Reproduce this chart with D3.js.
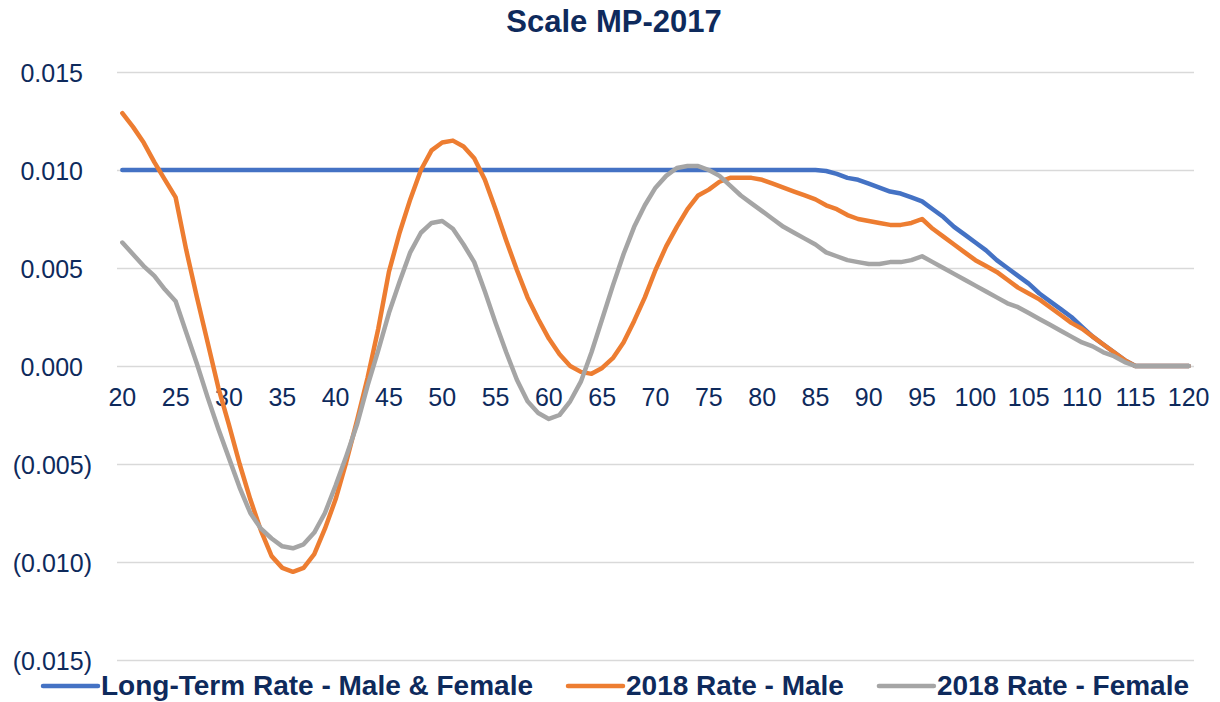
<!DOCTYPE html>
<html>
<head>
<meta charset="utf-8">
<script src="https://cdn.jsdelivr.net/npm/d3@7"></script>
<style>
  body { margin: 0; background: #fff; }
  svg { font-family: "Liberation Sans", Arial, sans-serif; }
</style>
</head>
<body>
<svg id="chart" width="1220" height="702"></svg>
<script>
/* Chart data: ages on the x axis, one value per age for each series */
var ages = d3.range(20, 121);
var xTickLabels = d3.range(20, 121, 5);
var yTickValues = [-0.015, -0.010, -0.005, 0, 0.005, 0.010, 0.015];

var longTerm = [
  0.010, 0.010, 0.010, 0.010, 0.010, 0.010, 0.010, 0.010, 0.010, 0.010,
  0.010, 0.010, 0.010, 0.010, 0.010, 0.010, 0.010, 0.010, 0.010, 0.010,
  0.010, 0.010, 0.010, 0.010, 0.010, 0.010, 0.010, 0.010, 0.010, 0.010,
  0.010, 0.010, 0.010, 0.010, 0.010, 0.010, 0.010, 0.010, 0.010, 0.010,
  0.010, 0.010, 0.010, 0.010, 0.010, 0.010, 0.010, 0.010, 0.010, 0.010,
  0.010, 0.010, 0.010, 0.010, 0.010, 0.010, 0.010, 0.010, 0.010, 0.010,
  0.010, 0.010, 0.010, 0.010, 0.010, 0.010, 0.00995, 0.0098, 0.0096, 0.0095,
  0.0093, 0.0091, 0.0089, 0.0088, 0.0086, 0.0084, 0.0080, 0.0076, 0.0071, 0.0067,
  0.0063, 0.0059, 0.0054, 0.0050, 0.0046, 0.0042, 0.0037, 0.0033, 0.0029, 0.0025,
  0.0020, 0.0015, 0.0011, 0.0007, 0.0003, 0, 0, 0, 0, 0,
  0
];

var male2018 = [
  0.0129, 0.0122, 0.0114, 0.0104, 0.0095, 0.0086, 0.0059, 0.0035, 0.0012, -0.0011,
  -0.0030, -0.0050, -0.0068, -0.0084, -0.0097, -0.0103, -0.0105, -0.0103, -0.0096, -0.0083,
  -0.0068, -0.0049, -0.0028, -0.0006, 0.0019, 0.0048, 0.0068, 0.0085, 0.0100, 0.0110,
  0.0114, 0.0115, 0.0112, 0.0106, 0.0095, 0.0080, 0.0064, 0.0049, 0.0035, 0.0024,
  0.0014, 0.0006, 0.0000, -0.0003, -0.0004, -0.0001, 0.0004, 0.0012, 0.0023, 0.0035,
  0.0049, 0.0061, 0.0071, 0.0080, 0.0087, 0.0090, 0.0094, 0.0096, 0.0096, 0.0096,
  0.0095, 0.0093, 0.0091, 0.0089, 0.0087, 0.0085, 0.0082, 0.0080, 0.0077, 0.0075,
  0.0074, 0.0073, 0.0072, 0.0072, 0.0073, 0.0075, 0.0070, 0.0066, 0.0062, 0.0058,
  0.0054, 0.0051, 0.0048, 0.0044, 0.0040, 0.0037, 0.0034, 0.0030, 0.0026, 0.0022,
  0.0019, 0.0015, 0.0011, 0.0007, 0.0003, 0, 0, 0, 0, 0,
  0
];

var female2018 = [
  0.0063, 0.0057, 0.0051, 0.0046, 0.0039, 0.0033, 0.0017, 0.0001, -0.0016, -0.0032,
  -0.0047, -0.0062, -0.0075, -0.0083, -0.0088, -0.0092, -0.0093, -0.0091, -0.0085, -0.0075,
  -0.0061, -0.0046, -0.0030, -0.0010, 0.0008, 0.0027, 0.0043, 0.0058, 0.0068, 0.0073,
  0.0074, 0.0070, 0.0062, 0.0053, 0.0038, 0.0022, 0.0007, -0.0007, -0.0018, -0.0024,
  -0.0027, -0.0025, -0.0018, -0.0008, 0.0007, 0.0024, 0.0041, 0.0057, 0.0071, 0.0082,
  0.0091, 0.0097, 0.0101, 0.0102, 0.0102, 0.0100, 0.0097, 0.0092, 0.0087, 0.0083,
  0.0079, 0.0075, 0.0071, 0.0068, 0.0065, 0.0062, 0.0058, 0.0056, 0.0054, 0.0053,
  0.0052, 0.0052, 0.0053, 0.0053, 0.0054, 0.0056, 0.0053, 0.0050, 0.0047, 0.0044,
  0.0041, 0.0038, 0.0035, 0.0032, 0.0030, 0.0027, 0.0024, 0.0021, 0.0018, 0.0015,
  0.0012, 0.0010, 0.0007, 0.0005, 0.0002, 0, 0, 0, 0, 0,
  0
];

var seriesNames = ["Long-Term Rate - Male & Female", "2018 Rate - Male", "2018 Rate - Female"];
var seriesColors = ["#4472C4", "#ED7D31", "#A5A5A5"];

var textColor = "#0E2A5C";

/* Plot area */
var svg = d3.select("#chart");
var plotLeft = 117, plotRight = 1194, plotTop = 72, plotBottom = 660;

var x = d3.scaleBand()
    .domain(ages)
    .range([plotLeft, plotRight]);
var xc = function(age) { return x(age) + x.bandwidth() / 2; };

var y = d3.scaleLinear()
    .domain([-0.015, 0.015])
    .range([plotBottom, plotTop]);

// Title
svg.append("text")
    .attr("x", 614)
    .attr("y", 32)
    .attr("text-anchor", "middle")
    .style("font-size", "31px")
    .style("font-weight", "bold")
    .style("fill", textColor)
    .text("Scale MP-2017");

// Y axis with gridlines
var fmt = d3.format(".3f");
var yAxis = svg.append("g")
    .attr("transform", "translate(" + plotLeft + ",0)")
    .call(d3.axisLeft(y)
        .tickValues(yTickValues)
        .tickSize(-(plotRight - plotLeft))
        .tickFormat(function(d) { return d < 0 ? "(" + fmt(-d) + ")" : fmt(d); }));
yAxis.select(".domain").remove();
yAxis.selectAll(".tick line")
    .attr("stroke", "#D9D9D9")
    .attr("stroke-width", 1.3);
yAxis.selectAll(".tick text")
    .attr("x", function(d) { return d < 0 ? -25 : -34; })
    .attr("dy", "0.36em")
    .style("font-size", "25px")
    .style("fill", textColor);

// X axis labels, sitting on the zero line
var xAxis = svg.append("g")
    .attr("transform", "translate(0," + y(0) + ")")
    .call(d3.axisBottom(x)
        .tickValues(xTickLabels)
        .tickSize(0)
        .tickPadding(22));
xAxis.select(".domain").remove();
xAxis.selectAll(".tick text")
    .style("font-size", "25px")
    .style("fill", textColor);

// Lines
var valueline = d3.line()
    .x(function(d) { return xc(d.age); })
    .y(function(d) { return y(d.value); });

[longTerm, male2018, female2018].forEach(function(values, i) {
    var points = ages.map(function(age, j) { return { age: age, value: values[j] }; });
    svg.append("path")
        .datum(points)
        .attr("fill", "none")
        .attr("stroke", seriesColors[i])
        .attr("stroke-width", 4.5)
        .attr("stroke-linejoin", "round")
        .attr("stroke-linecap", "round")
        .attr("d", valueline);
});

// Legend
var lx = 43, ly = 686;
seriesNames.forEach(function(name, i) {
    svg.append("line")
        .attr("x1", lx).attr("x2", lx + 55)
        .attr("y1", ly).attr("y2", ly)
        .attr("stroke", seriesColors[i])
        .attr("stroke-width", 4.5)
        .attr("stroke-linecap", "round");
    var t = svg.append("text")
        .attr("x", lx + 58)
        .attr("y", ly + 9)
        .style("font-size", "28px")
        .style("font-weight", "bold")
        .style("fill", textColor)
        .text(name);
    lx = lx + 58 + t.node().getComputedTextLength() + 35;
});
</script>
</body>
</html>
